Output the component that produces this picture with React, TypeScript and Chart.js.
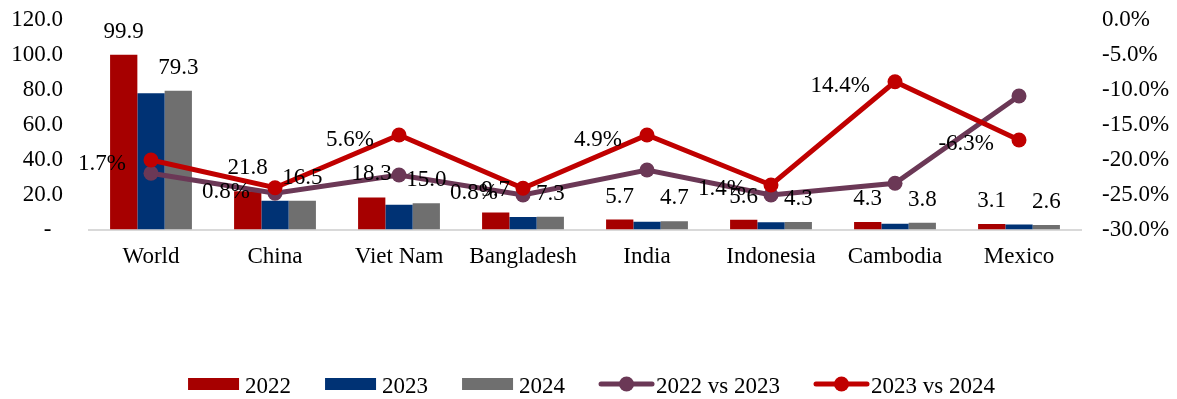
import React, { useEffect, useRef } from 'react';
import { Chart, registerables } from 'chart.js';

Chart.register(...registerables);

const categories = ['World', 'China', 'Viet Nam', 'Bangladesh', 'India', 'Indonesia', 'Cambodia', 'Mexico'];
const values2022 = [99.9, 21.8, 18.3, 9.7, 5.7, 5.6, 4.3, 3.1];
const values2023 = [77.9, 16.4, 14.2, 7.2, 4.5, 4.2, 3.3, 2.8];
const values2024 = [79.3, 16.5, 15.0, 7.3, 4.7, 4.3, 3.8, 2.6];
// positions on the right axis (%) as plotted in the picture
const change2022vs2023 = [-21.97, -24.83, -22.21, -25.07, -21.5, -25.07, -23.4, -10.93];
const change2023vs2024 = [-20.07, -24.03, -16.5, -24.11, -16.5, -23.64, -8.89, -17.21];
// label texts shown next to the 2023 vs 2024 points
const change2023vs2024Labels = ['1.7%', '0.8%', '5.6%', '0.8%', '4.9%', '1.4%', '14.4%', '-6.3%'];
const leftTickStep = 20;
const rightTickStep = 5;

const FONT = "'Liberation Serif', 'Times New Roman', serif";
const FS = 23;
const C2022 = '#A60000';
const C2023 = '#003274';
const C2024 = '#6F6F6F';
const CPURPLE = '#6B3856';
const CRED = '#C00000';

const labelsPlugin = {
  id: 'customLabels',
  afterDatasetsDraw(chart: any) {
    const ctx = chart.ctx;
    ctx.save();
    ctx.font = `${FS}px ${FONT}`;
    ctx.fillStyle = '#000';
    [0, 2].forEach((di) => {
      const meta = chart.getDatasetMeta(di);
      const data = chart.data.datasets[di].data as number[];
      meta.data.forEach((el: any, i: number) => {
        ctx.textAlign = 'center';
        ctx.textBaseline = 'alphabetic';
        ctx.fillText(data[i].toFixed(1), el.x, el.y - 17);
      });
    });
    const lm = chart.getDatasetMeta(4);
    lm.data.forEach((el: any, i: number) => {
      ctx.textAlign = 'right';
      ctx.textBaseline = 'alphabetic';
      ctx.fillText(change2023vs2024Labels[i], el.x - 25, el.y + 10.5);
    });
    ctx.restore();
  },
};

const legendItems = [
  { text: '2022', kind: 'rect', color: C2022 },
  { text: '2023', kind: 'rect', color: C2023 },
  { text: '2024', kind: 'rect', color: C2024 },
  { text: '2022 vs 2023', kind: 'line', color: CPURPLE },
  { text: '2023 vs 2024', kind: 'line', color: CRED },
];

const legendPlugin = {
  id: 'customLegend',
  afterDraw(chart: any) {
    const ctx = chart.ctx;
    ctx.save();
    ctx.font = `${FS}px ${FONT}`;
    const cy = 384;
    const itemGap = 34;
    const widths = legendItems.map((it) => {
      const mw = it.kind === 'rect' ? 51 : 55;
      const gap = it.kind === 'rect' ? 6 : 2;
      return mw + gap + ctx.measureText(it.text).width;
    });
    const total = widths.reduce((a, b) => a + b, 0) + itemGap * (legendItems.length - 1);
    let x = 591.5 - total / 2;
    legendItems.forEach((it, i) => {
      ctx.fillStyle = '#000';
      ctx.textAlign = 'left';
      ctx.textBaseline = 'alphabetic';
      if (it.kind === 'rect') {
        ctx.fillText(it.text, x + 57, cy + 9);
        ctx.fillStyle = it.color;
        ctx.fillRect(x, cy - 6, 51, 12);
      } else {
        ctx.fillText(it.text, x + 57, cy + 9);
        ctx.strokeStyle = it.color;
        ctx.lineWidth = 5;
        ctx.lineCap = 'round';
        ctx.beginPath();
        ctx.moveTo(x + 2, cy);
        ctx.lineTo(x + 53, cy);
        ctx.stroke();
        ctx.fillStyle = it.color;
        ctx.beginPath();
        ctx.arc(x + 27.5, cy, 7.5, 0, Math.PI * 2);
        ctx.fill();
      }
      x += widths[i] + itemGap;
    });
    ctx.restore();
  },
};

const noPad = (s: any) => {
  s.paddingTop = 0;
  s.paddingBottom = 0;
  s.paddingLeft = 0;
  s.paddingRight = 0;
};

export default function App() {
  const ref = useRef<HTMLCanvasElement>(null);
  useEffect(() => {
    if (!ref.current) return;
    const font = { family: FONT, size: FS };
    const chart = new Chart(ref.current, {
      type: 'bar',
      data: {
        labels: categories,
        datasets: [
          { type: 'bar', label: '2022', data: values2022, backgroundColor: C2022, yAxisID: 'y', order: 3, barPercentage: 1, categoryPercentage: 0.66 },
          { type: 'bar', label: '2023', data: values2023, backgroundColor: C2023, yAxisID: 'y', order: 3, barPercentage: 1, categoryPercentage: 0.66 },
          { type: 'bar', label: '2024', data: values2024, backgroundColor: C2024, yAxisID: 'y', order: 3, barPercentage: 1, categoryPercentage: 0.66 },
          { type: 'line', label: '2022 vs 2023', data: change2022vs2023, borderColor: CPURPLE, backgroundColor: CPURPLE, borderWidth: 5, pointRadius: 7.5, pointBorderWidth: 0, pointBackgroundColor: CPURPLE, yAxisID: 'y1', order: 2, tension: 0 },
          { type: 'line', label: '2023 vs 2024', data: change2023vs2024, borderColor: CRED, backgroundColor: CRED, borderWidth: 5, pointRadius: 7.5, pointBorderWidth: 0, pointBackgroundColor: CRED, yAxisID: 'y1', order: 1, tension: 0 },
        ],
      } as any,
      options: {
        animation: false,
        responsive: true,
        maintainAspectRatio: false,
        layout: { padding: { top: 19.5, bottom: 129.5, left: 0, right: 0 } },
        plugins: { legend: { display: false }, tooltip: { enabled: false } },
        scales: {
          x: {
            grid: { display: true, drawOnChartArea: false, drawTicks: false },
            border: { display: true, color: '#D9D9D9', width: 2 },
            ticks: { font, color: '#000', padding: 14, maxRotation: 0, autoSkip: false },
            afterFit: (s: any) => { s.height = 40; noPad(s); },
          },
          y: {
            position: 'left',
            min: 0,
            max: 120,
            grid: { display: false, drawTicks: false },
            border: { display: false },
            ticks: { stepSize: leftTickStep, font, color: '#000', padding: 26, callback: (v: any) => (Number(v) === 0 ? '-  ' : Number(v).toFixed(1)) },
            afterFit: (s: any) => { s.width = 89; noPad(s); },
          },
          y1: {
            position: 'right',
            min: -30,
            max: 0,
            grid: { display: false, drawTicks: false },
            border: { display: false },
            ticks: { stepSize: rightTickStep, font, color: '#000', padding: 21, callback: (v: any) => Number(v).toFixed(1) + '%' },
            afterFit: (s: any) => { s.width = 96; noPad(s); },
          },
        },
      } as any,
      plugins: [labelsPlugin, legendPlugin],
    });
    return () => chart.destroy();
  }, []);
  return (
    <div style={{ position: 'fixed', left: 0, top: 0, width: 1177, height: 399, background: '#fff' }}>
      <canvas ref={ref} />
    </div>
  );
}
